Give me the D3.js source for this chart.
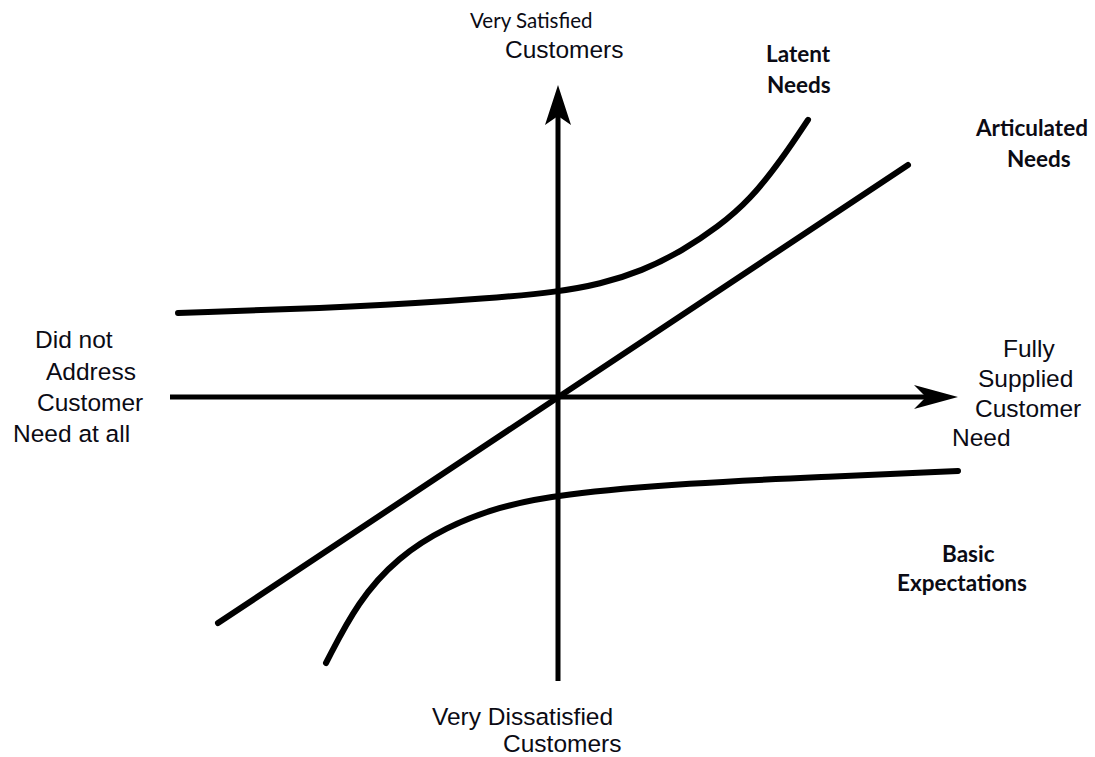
<!DOCTYPE html>
<meta charset="utf-8">
<style>
  body { margin: 0; background: #fff; }
  .curve { fill: none; stroke: #000; stroke-width: 6; stroke-linecap: round; }
  .axis-line { stroke: #000; stroke-width: 5; }
  .arrow { fill: #000; }
  .lbl { font-family: "Liberation Sans", Arial, sans-serif; font-size: 24.5px; fill: #0b0b14; }
  .lbl-small { font-family: Lato, "Open Sans", sans-serif; font-size: 20.5px; fill: #0b0b14; }
  .lbl-bold { font-family: Lato, "Open Sans", sans-serif; font-size: 22.5px; font-weight: bold; fill: #0b0b14; }
</style>
<body>
<svg id="kano" width="1095" height="757"></svg>
</body>
<script src="https://cdn.jsdelivr.net/npm/d3@7"></script>
<script>

// curves in chart units (x: how fully the need is supplied, y: satisfaction)
var latent = [[-9.5, 2.1], [-5, 2.25], [-1.6, 2.47], [0, 2.63], [1.05, 2.82], [2.1, 3.15],
              [3.1, 3.65], [4, 4.25], [4.8, 4.93], [5.6, 5.95], [6.25, 6.93]];
var articulated = [[-8.5, -5.65], [8.75, 5.8]];
var basic = [[-5.8, -6.65], [-5.0, -5.1], [-4.0, -4.0], [-2.8, -3.25], [-1.5, -2.75],
             [0, -2.43], [3.3, -2.15], [6.55, -2.0], [10, -1.85]];

var xAxisEnds = [-9.7, 10];   // left end, arrow tip
var yAxisEnds = [-7.1, 7.8];  // bottom end, arrow tip

// label texts
var topLabel = ["Very Satisfied", "Customers"];
var bottomLabel = ["Very Dissatisfied", "Customers"];
var leftLabel = ["Did not", "Address", "Customer", "Need at all"];
var rightLabel = ["Fully", "Supplied", "Customer", "Need"];
var latentLabel = ["Latent", "Needs"];
var articulatedLabel = ["Articulated", "Needs"];
var basicLabel = ["Basic", "Expectations"];

var svg = d3.select("#kano");

var x = d3.scaleLinear().domain([-10, 10]).range([158, 958]);
var y = d3.scaleLinear().domain([-10, 10]).range([797, -3]);

var line = d3.line()
    .x(function(d) { return x(d[0]); })
    .y(function(d) { return y(d[1]); })
    .curve(d3.curveBasis);

// axes
svg.append("line")
    .attr("class", "axis-line")
    .attr("x1", x(xAxisEnds[0])).attr("y1", y(0))
    .attr("x2", x(xAxisEnds[1]) - 30).attr("y2", y(0));

svg.append("line")
    .attr("class", "axis-line")
    .attr("x1", x(0)).attr("y1", y(yAxisEnds[0]))
    .attr("x2", x(0)).attr("y2", y(yAxisEnds[1]) + 30);

// arrow heads, pointing right, rotated as needed
svg.append("path")
    .attr("class", "arrow")
    .attr("d", "M0,0 L-44,-12 L-32,0 L-44,12 Z")
    .attr("transform", "translate(" + x(xAxisEnds[1]) + "," + y(0) + ")");
svg.append("path")
    .attr("class", "arrow")
    .attr("d", "M0,0 L-40,-13 L-31,0 L-40,13 Z")
    .attr("transform", "translate(" + x(0) + "," + y(yAxisEnds[1]) + ") rotate(-90)");

// curves
[latent, articulated, basic].forEach(function(c) {
  svg.append("path").attr("class", "curve").attr("d", line(c));
});

// labels
function addLines(lines, xs, ys, cls) {
  lines.forEach(function(t, i) {
    svg.append("text")
        .attr("class", i == 0 && lines === topLabel ? "lbl-small" : cls)
        .attr("x", xs[i])
        .attr("y", ys[i])
        .text(t);
  });
}

addLines(topLabel, [470, 505], [28, 58], "lbl");
addLines(bottomLabel, [432, 503], [725, 752], "lbl");
addLines(leftLabel, [35, 46, 37, 13], [348, 380, 411, 442], "lbl");
addLines(rightLabel, [1003, 978, 975, 952], [357, 387, 417, 446], "lbl");
addLines(latentLabel, [766, 767], [62, 93], "lbl-bold");
addLines(articulatedLabel, [976, 1007], [136, 167], "lbl-bold");
addLines(basicLabel, [942, 897], [562, 591], "lbl-bold");

</script>
